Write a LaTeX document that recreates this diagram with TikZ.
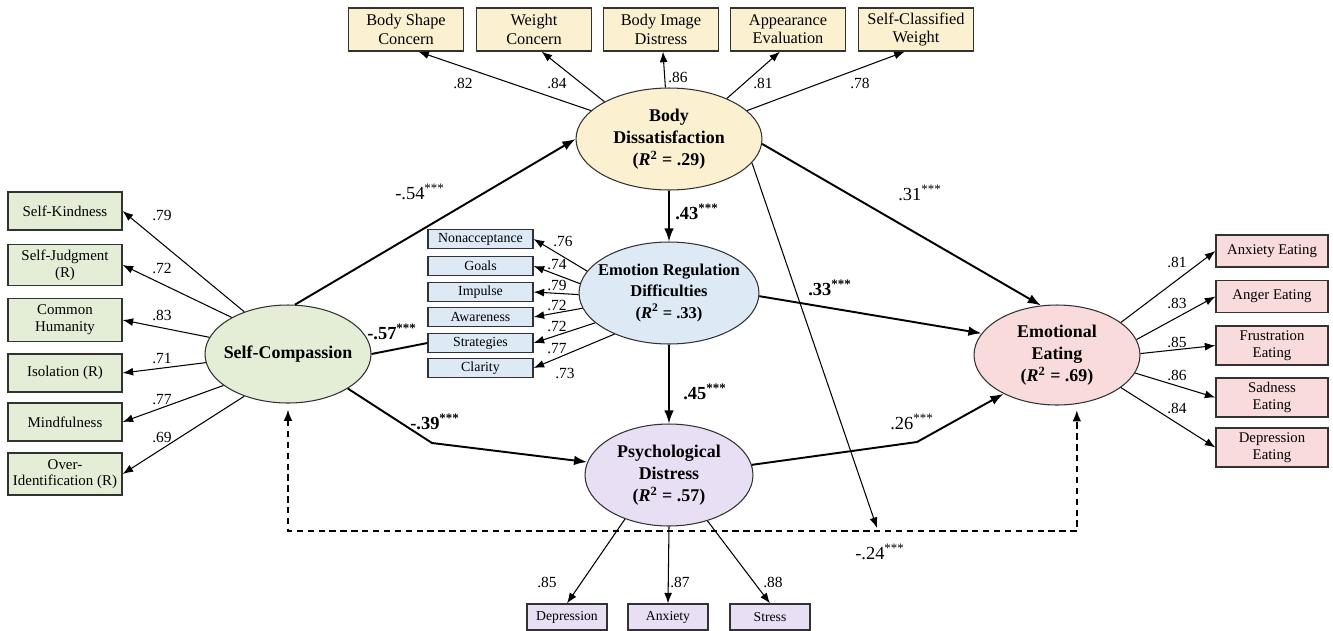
\documentclass[tikz,border=0pt]{standalone}
\usepackage{fontspec}
\setmainfont{Liberation Serif}
\usetikzlibrary{shapes.geometric,arrows.meta}

\definecolor{bdfill}{RGB}{251,240,208}
\definecolor{scfill}{RGB}{228,237,214}
\definecolor{erfill}{RGB}{221,234,246}
\definecolor{pdfill}{RGB}{233,223,245}
\definecolor{eefill}{RGB}{249,219,219}
\definecolor{lineclr}{RGB}{50,50,50}

\begin{document}
\begin{tikzpicture}[x=0.02cm, y=-0.02cm,
  latent/.style={ellipse, draw=lineclr, line width=0.6pt, inner sep=0pt},
  lattext/.style={align=center, font=\fontsize{10.2}{12.6}\selectfont\bfseries},
  ind/.style={draw=lineclr, line width=0.7pt, inner sep=0pt, align=center},
  bdbox/.style={ind, fill=bdfill, minimum width=2.3cm, minimum height=0.86cm, font=\fontsize{9.3}{10.4}\selectfont},
  scbox/.style={ind, fill=scfill, minimum width=2.28cm, minimum height=0.76cm, font=\fontsize{8.5}{9.5}\selectfont},
  erbox/.style={ind, fill=erfill, minimum width=2.1cm, minimum height=0.38cm, font=\fontsize{7.9}{9}\selectfont},
  pdbox/.style={ind, fill=pdfill, minimum width=1.6cm, minimum height=0.52cm, font=\fontsize{7.8}{9}\selectfont},
  eebox/.style={ind, fill=eefill, minimum width=2.24cm, minimum height=0.64cm, font=\fontsize{8.4}{9.5}\selectfont},
  load/.style={-{Latex[length=6pt,width=4.5pt]}, line width=0.6pt},
  struct/.style={-{Latex[length=7.5pt,width=5.5pt]}, line width=1.1pt},
  coef/.style={font=\fontsize{8.8}{10}\selectfont},
  beta/.style={font=\fontsize{10.5}{12}\selectfont},
  dashpath/.style={line width=1.1pt, dash pattern=on 3.6pt off 2.6pt,
    {Latex[length=6.5pt,width=5pt]}-{Latex[length=6.5pt,width=5pt]},
    shorten <=3.4pt, shorten >=3.4pt}]
\useasboundingbox (0,0) rectangle (1333,630);

% Latent variables
\node[latent, fill=bdfill, minimum width=3.72cm, minimum height=2.04cm,
  label={[lattext]center:{Body\\Dissatisfaction\\(\textit{R}\textsuperscript{2} = .29)}}] (bd) at (669,139) {};
\node[latent, fill=scfill, minimum width=3.32cm, minimum height=1.96cm,
  label={[lattext]center:{Self-Compassion}}] (sc) at (288,354) {};
\node[latent, fill=erfill, minimum width=3.6cm, minimum height=2.04cm,
  label={[lattext, font=\fontsize{9.4}{12.3}\selectfont\bfseries]center:{Emotion Regulation\\Difficulties\\(\textit{R}\textsuperscript{2} = .33)}}] (erd) at (669,293) {};
\node[latent, fill=pdfill, minimum width=3.36cm, minimum height=2.04cm,
  label={[lattext]center:{Psychological\\Distress\\(\textit{R}\textsuperscript{2} = .57)}}] (pd) at (669,475) {};
\node[latent, fill=eefill, minimum width=3.32cm, minimum height=2cm,
  label={[lattext]center:{Emotional\\Eating\\(\textit{R}\textsuperscript{2} = .69)}}] (ee) at (1057,355) {};

% Body dissatisfaction indicators
\node[bdbox] (bsc) at (406,29.5) {Body Shape\\Concern};
\node[bdbox] (wc) at (534,29.5) {Weight\\Concern};
\node[bdbox] (bid) at (661,29.5) {Body Image\\Distress};
\node[bdbox] (ae) at (788,29.5) {Appearance\\Evaluation};
\node[bdbox] (scw) at (916,29.5) {Self-Classified\\Weight};

% Self-compassion indicators
\node[scbox] (sk) at (65,211) {Self-Kindness};
\node[scbox, minimum height=0.82cm] (sj) at (65,265) {Self-Judgment\\(R)};
\node[scbox, minimum height=0.86cm] (ch) at (65,320) {Common\\Humanity};
\node[scbox] (iso) at (65,373) {Isolation (R)};
\node[scbox] (mind) at (65,422) {Mindfulness};
\node[scbox, minimum height=0.84cm] (oi) at (65,474) {Over-\\Identification (R)};

% Emotion regulation indicators
\node[erbox] (nonacc) at (480.5,239) {Nonacceptance};
\node[erbox] (goals) at (480.5,266) {Goals};
\node[erbox] (impulse) at (480.5,292) {Impulse};
\node[erbox] (aware) at (480.5,317) {Awareness};
\node[erbox] (strat) at (480.5,343) {Strategies};
\node[erbox] (clarity) at (480.5,368) {Clarity};

% Psychological distress indicators
\node[pdbox] (dep) at (567,617) {Depression};
\node[pdbox] (anx) at (668,617) {Anxiety};
\node[pdbox] (stress) at (770,617) {Stress};

% Emotional eating indicators
\node[eebox] (aeat) at (1272,251) {Anxiety Eating};
\node[eebox] (angeat) at (1272,296.5) {Anger Eating};
\node[eebox, minimum height=0.78cm] (fe) at (1272,345.5) {Frustration\\Eating};
\node[eebox, minimum height=0.78cm] (se) at (1272,397.5) {Sadness\\Eating};
\node[eebox, minimum height=0.78cm] (de) at (1272,447.5) {Depression\\Eating};

% Loadings
\foreach \n/\a/\b/\v/\lx/\ly in {bsc/160/-61/.82/463/83, wc/150/-71/.84/557/83,
    bid/94/-85/.86/678/77, ae/35/-110/.81/763/83, scw/20/-117/.78/860/83}{
  \draw[load] (bd.\a) -- (\n.\b);
  \node[coef] (c\n) at (\lx,\ly) {\v};
}
\foreach \n/\a/\v/\ly in {sk/136/.79/215, sj/147/.72/268, ch/168/.83/315,
    iso/186/.71/358, mind/206/.77/400, oi/224/.69/437}{
  \draw[load] (sc.\a) -- (\n.east);
  \node[coef] (c\n) at (162,\ly) {\v};
}
\foreach \n/\a/\v/\lx/\ly in {nonacc/165/.76/563/241, goals/174/.74/557/265,
    impulse/181/.79/557/285, aware/190/.72/557/305, strat/202/.72/557/326,
    clarity/217/.77/557/349}{
  \draw[load] (erd.\a) -- (\n.east);
  \node[coef] (c\n) at (\lx,\ly) {\v};
}
\node[coef] (cclarity2) at (565,373) {.73};
\foreach \n/\a/\v/\ly in {aeat/27/.81/262, angeat/11/.83/303, fe/1/.85/342,
    se/-13/.86/375, de/-27/.84/408}{
  \draw[load] (ee.\a) -- (\n.west);
  \node[coef] (c\n) at (1177,\ly) {\v};
}
\draw[load] (pd.225) -- (dep.north);
\draw[load] (pd.south) -- (anx.north);
\draw[load] (pd.-50) -- (stress.north);
\node[coef] (cdep) at (547,582) {.85};
\node[coef] (canx) at (680,582) {.87};
\node[coef] (cstress) at (773,582) {.88};

% Structural paths
\coordinate (bend1) at (432,443);
\coordinate (bend2) at (917,442);
\coordinate (hit) at (877,528);
\coordinate (dl) at (0,531);
\draw[struct] (sc.82) -- (bd.west);
\draw[struct] (bd.south) -- (erd.north);
\draw[struct] (bd.-3) -- (ee.108);
\draw[struct] (erd.-2) -- (ee.164);
\draw[struct] (erd.south) -- (pd.north);
\draw[line width=1.1pt] (sc.east) -- (strat.west);
\draw[struct] (sc.-30) -- (bend1) -- (pd.171);
\draw[struct] (pd.7) -- (bend2) -- (ee.216);
\draw[load] (bd.-16) -- (hit);
\draw[dashpath] (sc.south) -- (sc.south |- dl) -- (ee.-68 |- dl) -- (ee.-68);

% Path coefficients
\node[beta] (b1) at (420,192) {-.54\textsuperscript{***}};
\node[beta, font=\fontsize{10.5}{12}\selectfont\bfseries] (b2) at (697,212) {.43\textsuperscript{***}};
\node[beta] (b3) at (920,193) {.31\textsuperscript{***}};
\node[beta, font=\fontsize{10.5}{12}\selectfont\bfseries] (b4) at (830,288) {.33\textsuperscript{***}};
\node[beta, font=\fontsize{10.5}{12}\selectfont\bfseries] (b5) at (705,392) {.45\textsuperscript{***}};
\node[beta, font=\fontsize{10.5}{12}\selectfont\bfseries] (b6) at (392,332) {-.57\textsuperscript{***}};
\node[beta, font=\fontsize{10.5}{12}\selectfont\bfseries] (b7) at (435,422) {-.39\textsuperscript{***}};
\node[beta] (b8) at (912,422) {.26\textsuperscript{***}};
\node[beta] (b9) at (880,552) {-.24\textsuperscript{***}};
\end{tikzpicture}
\end{document}
